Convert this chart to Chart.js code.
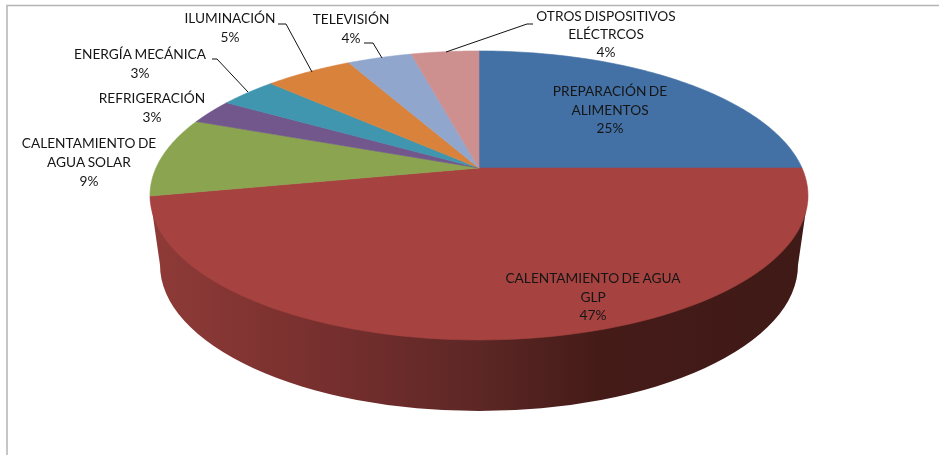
<!DOCTYPE html>
<html lang="es">
<head>
<meta charset="utf-8">
<title>Consumo de energía</title>
<script src="https://cdn.jsdelivr.net/npm/chart.js@4/dist/chart.umd.min.js"></script>
<style>
  html, body { margin: 0; padding: 0; background: #fff; overflow: hidden; }
  #wrap { width: 939px; height: 455px; }
</style>
</head>
<body>
<div id="wrap"><canvas id="pie" width="939" height="455"></canvas></div>
<script>
// Data (unrounded estimates, labels show them rounded)
const categories = [
    'PREPARACIÓN DE ALIMENTOS',
    'CALENTAMIENTO DE AGUA GLP',
    'CALENTAMIENTO DE AGUA SOLAR',
    'REFRIGERACIÓN',
    'ENERGÍA MECÁNICA',
    'ILUMINACIÓN',
    'TELEVISIÓN',
    'OTROS DISPOSITIVOS ELÉCTRCOS'
];
const values = [25, 46.9, 8.9, 2.8, 3.4, 5.2, 3.8, 4];
const labelLines = [
    ['PREPARACIÓN DE', 'ALIMENTOS'],
    ['CALENTAMIENTO DE AGUA', 'GLP'],
    ['CALENTAMIENTO DE', 'AGUA SOLAR'],
    ['REFRIGERACIÓN'],
    ['ENERGÍA MECÁNICA'],
    ['ILUMINACIÓN'],
    ['TELEVISIÓN'],
    ['OTROS DISPOSITIVOS', 'ELÉCTRCOS']
];
const sliceColors = ['#4371a6', '#a64340', '#8aa44f', '#71578c', '#3f96ae', '#d9823b', '#91a6cd', '#ce8f8f'];

// Layout of the tilted disc (perspective projection of the pie's circle)
const CX = 479, CY = 168, RX = 323, TILT_A = -0.19, TILT_B = 139.3;

// Label anchors: centre x, centre y of first line, line height
const labelAnchors = [
    [610, 92, 18.5], [593, 279, 18.5], [89, 144, 18.8], [152, 99, 18.5],
    [140, 55, 19], [230, 19, 19], [351, 20, 18.5], [606, 17, 18]
];
const leaders = [
    [[278, 24], [286, 24], [312, 72]],
    [[212, 59], [217, 59], [248, 92]],
    [[364, 43], [373, 43], [382, 58]],
    [[533, 24], [527, 24], [446, 52]]
];

function project(angle) {
    const X = Math.cos(angle), Y = Math.sin(angle);
    const w = 1 + TILT_A * Y;
    return [CX + RX * X / w, CY + TILT_B * Y / w];
}

const piePlugin = {
    id: 'tiltedPie',
    // library's arcs give the angles, they get painted through the projection
    beforeDatasetsDraw(chart) {
        const ctx = chart.ctx;
        const arcs = chart.getDatasetMeta(0).data;

        // frame
        ctx.save();
        ctx.strokeStyle = '#b4b4b4';
        ctx.lineWidth = 1.5;
        ctx.beginPath();
        ctx.moveTo(7, 455);
        ctx.lineTo(7, 5.5);
        ctx.lineTo(939, 5.5);
        ctx.stroke();

        // side wall
        const wall = ctx.createLinearGradient(150, 0, 808, 0);
        wall.addColorStop(0, '#8f3b38');
        wall.addColorStop(0.22, '#7b312f');
        wall.addColorStop(0.35, '#6e2c2b');
        wall.addColorStop(0.5, '#5c2725');
        wall.addColorStop(0.68, '#451b18');
        wall.addColorStop(1, '#3f1a17');
        ctx.fillStyle = wall;
        ctx.beginPath();
        ctx.moveTo(150, 196);
        ctx.lineTo(160, 265);
        ctx.ellipse(479, 265, 319, 146, 0, Math.PI, 0, true);
        ctx.lineTo(808, 196);
        ctx.closePath();
        ctx.fill();

        // top face
        arcs.forEach((arc, i) => {
            const steps = 90;
            ctx.beginPath();
            ctx.moveTo(CX, CY);
            for (let s = 0; s <= steps; s++) {
                const a = arc.startAngle + (arc.endAngle - arc.startAngle) * s / steps;
                const p = project(a);
                ctx.lineTo(p[0], p[1]);
            }
            ctx.closePath();
            ctx.fillStyle = arc.options.backgroundColor;
            ctx.strokeStyle = arc.options.backgroundColor;
            ctx.lineWidth = 0.6;
            ctx.fill();
            ctx.stroke();
        });

        // leader lines
        ctx.strokeStyle = '#111';
        ctx.lineWidth = 1;
        leaders.forEach(l => {
            ctx.beginPath();
            l.forEach((p, i) => i ? ctx.lineTo(p[0], p[1]) : ctx.moveTo(p[0], p[1]));
            ctx.stroke();
        });

        // labels
        ctx.fillStyle = '#151515';
        ctx.font = '13.7px Lato, sans-serif';
        ctx.textAlign = 'center';
        ctx.textBaseline = 'middle';
        ctx.wordSpacing = '-1px';
        labelLines.forEach((lines, i) => {
            const a = labelAnchors[i];
            lines.concat(Math.round(values[i]) + '%').forEach((t, n) => {
                ctx.fillText(t, a[0], a[1] + n * a[2]);
            });
        });
        ctx.restore();
        return false; // native round pie is not wanted
    }
};

new Chart(document.getElementById('pie'), {
    type: 'pie',
    data: {
        labels: categories,
        datasets: [{ data: values, backgroundColor: sliceColors, borderWidth: 0 }]
    },
    options: {
        responsive: false,
        animation: false,
        plugins: { legend: { display: false }, title: { display: false }, tooltip: { enabled: false } }
    },
    plugins: [piePlugin]
});
</script>
</body>
</html>
